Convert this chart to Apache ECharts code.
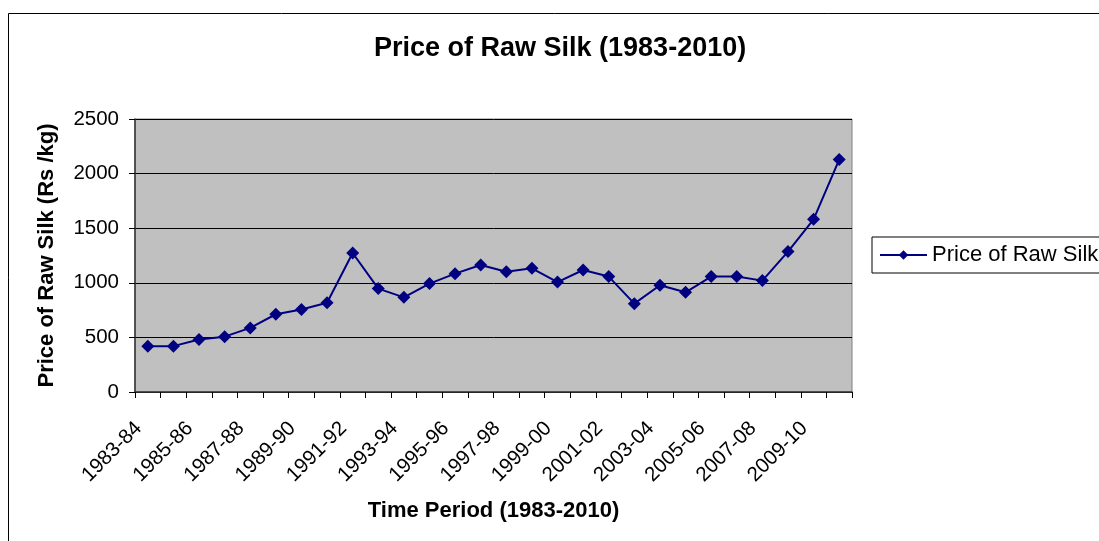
<!DOCTYPE html>
<html>
<head>
<meta charset="utf-8">
<title>Price of Raw Silk (1983-2010)</title>
<script src="https://cdn.jsdelivr.net/npm/echarts@6/dist/echarts.min.js"></script>
<style>
  html, body { margin: 0; padding: 0; background: #ffffff; }
  #chart { width: 1099px; height: 541px; }
</style>
</head>
<body>
<div id="chart"></div>
<script>
// Financial years shown on the horizontal axis
const periods = [
  '1983-84', '1984-85', '1985-86', '1986-87', '1987-88', '1988-89', '1989-90',
  '1990-91', '1991-92', '1992-93', '1993-94', '1994-95', '1995-96', '1996-97',
  '1997-98', '1998-99', '1999-00', '2000-01', '2001-02', '2002-03', '2003-04',
  '2004-05', '2005-06', '2006-07', '2007-08', '2008-09', '2009-10', '2010-11'
];

// Raw silk price, Rs per kg
const rawSilkPrice = [
  420, 420, 480, 507, 587, 712, 755,
  818, 1273, 947, 867, 993, 1084, 1163,
  1102, 1133, 1007, 1117, 1057, 809, 977,
  913, 1057, 1057, 1020, 1286, 1581, 2128
];

const seriesName = 'Price of Raw Silk';
const chartTitle = 'Price of Raw Silk (1983-2010)';
const xTitle = 'Time Period (1983-2010)';
const yTitle = 'Price of Raw Silk (Rs /kg)';

const FONT = '"Liberation Sans", Arial, sans-serif';

const chart = echarts.init(document.getElementById('chart'), null, { renderer: 'canvas' });

chart.setOption({
  backgroundColor: '#ffffff',
  animation: false,
  textStyle: { fontFamily: FONT, color: '#000' },
  graphic: [{
    type: 'rect',
    silent: true,
    z: -1,
    shape: { x: 8.5, y: 13.5, width: 1200, height: 600 },
    style: { fill: 'none', stroke: '#000', lineWidth: 1 }
  }],
  title: {
    text: chartTitle,
    left: 374,
    top: 35,
    padding: 0,
    textStyle: { fontFamily: FONT, fontSize: 27, fontWeight: 'bold', color: '#000' }
  },
  legend: {
    left: 872,
    top: 237,
    orient: 'vertical',
    padding: [7, 8, 7, 7],
    itemWidth: 47,
    itemHeight: 12,
    itemGap: 4,
    borderColor: '#000',
    borderWidth: 1,
    textStyle: { fontFamily: FONT, fontSize: 22, color: '#000' },
    data: [seriesName]
  },
  grid: {
    left: 135,
    right: 247,
    top: 119,
    bottom: 149,
    show: true,
    backgroundColor: '#C0C0C0',
    borderColor: '#808080',
    borderWidth: 1
  },
  xAxis: {
    type: 'category',
    data: periods,
    boundaryGap: true,
    name: xTitle,
    nameLocation: 'middle',
    nameGap: 108,
    nameTextStyle: { fontFamily: FONT, fontSize: 22, fontWeight: 'bold', color: '#000' },
    axisLine: { lineStyle: { color: '#333', width: 1.5 } },
    axisTick: { show: true, interval: 0, length: 6, lineStyle: { color: '#000' } },
    axisLabel: {
      interval: 1,
      rotate: 45,
      margin: 24,
      padding: [0, 13, 0, 0],
      fontFamily: FONT,
      fontSize: 20.5,
      color: '#000'
    },
    splitLine: { show: false }
  },
  yAxis: {
    type: 'value',
    min: 0,
    max: 2500,
    interval: 500,
    name: yTitle,
    nameLocation: 'middle',
    nameGap: 77,
    nameTextStyle: { fontFamily: FONT, fontSize: 22, fontWeight: 'bold', color: '#000' },
    axisLine: { show: true, lineStyle: { color: '#333', width: 1.5 } },
    axisTick: { show: true, length: 6, lineStyle: { color: '#000' } },
    axisLabel: {
      margin: 16,
      fontFamily: FONT,
      fontSize: 20.5,
      color: '#000',
      formatter: function (v) { return String(v); }
    },
    splitLine: { show: true, lineStyle: { color: '#000', width: 1 } }
  },
  series: [{
    name: seriesName,
    type: 'line',
    data: rawSilkPrice,
    symbol: 'diamond',
    symbolSize: 13,
    showAllSymbol: true,
    lineStyle: { color: '#000080', width: 2 },
    itemStyle: { color: '#000080' }
  }]
});
</script>
</body>
</html>
